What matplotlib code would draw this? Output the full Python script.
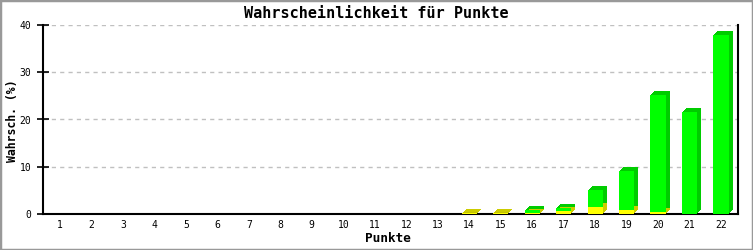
import matplotlib
matplotlib.use("Agg")
import matplotlib.pyplot as plt
import matplotlib.transforms as mtransforms
from matplotlib.patches import Rectangle

# Values.
punkte = list(range(1, 23))
gelb = [0] * 13 + [0.25, 0.25, 0.25, 0.6, 1.4, 0.8, 0.35, 0, 0]
gruen = [0] * 13 + [0, 0, 0.5, 0.6, 3.6, 8.2, 24.9, 21.6, 37.9]
y_ticks = [0, 10, 20, 30, 40]

plt.rcParams["font.family"] = ["DejaVu Sans Mono"]

fig = plt.figure(figsize=(7.53, 2.5), dpi=100)
ax = fig.add_axes([43 / 753, 36 / 250, 695 / 753, 189 / 250])

bar_w = 0.48
depth = 4  # pixels of 3d offset

# Shadow (side + top) drawn as stacked pixel offsets.
for k in range(1, depth + 1):
    shift = mtransforms.ScaledTranslation(k / 100, k / 100, fig.dpi_scale_trans)
    tr = ax.transData + shift
    ax.bar(punkte, gelb, width=bar_w, color="#cccc00", linewidth=0, transform=tr, zorder=2)
    ax.bar(punkte, gruen, width=bar_w, bottom=gelb, color="#00cc00", linewidth=0,
           transform=tr, zorder=2)

# Front faces.
ax.bar(punkte, gelb, width=bar_w, color="#ffff00", linewidth=0, zorder=3)
ax.bar(punkte, gruen, width=bar_w, bottom=gelb, color="#00ff00", linewidth=0, zorder=3)

ax.set_xlim(0.46, 22.54)
ax.set_ylim(0, 40)
ax.set_xticks(punkte)
ax.set_yticks(y_ticks)
ax.tick_params(axis="x", length=0, labelsize=7, pad=4)
ax.tick_params(axis="y", direction="inout", length=9, width=1.2, labelsize=7, pad=4)
ax.grid(axis="y", color="#c0c0c0", linestyle=(0, (3, 3)), linewidth=1, zorder=0)
ax.set_axisbelow(True)

ax.spines["top"].set_visible(False)
for side in ["left", "bottom", "right"]:
    ax.spines[side].set_linewidth(1.5)
    ax.spines[side].set_color("black")

fig.text(0.5, 1 - 13 / 250, "Wahrscheinlichkeit für Punkte", fontsize=10.9,
         fontweight="bold", ha="center", va="center")
fig.text(388 / 753, 1 - 239 / 250, "Punkte", fontsize=9.2, fontweight="bold",
         ha="center", va="center")
fig.text(12.5 / 753, 1 - 120.5 / 250, "Wahrsch. (%)", fontsize=8.3, fontweight="bold",
         ha="center", va="center", rotation=90)

# Grey frame round the whole picture.
fig.patches.append(Rectangle((0, 0), 1, 1, transform=fig.transFigure, fill=False,
                             edgecolor="#999999", linewidth=2.5))

fig.savefig("out.png", dpi=100)
